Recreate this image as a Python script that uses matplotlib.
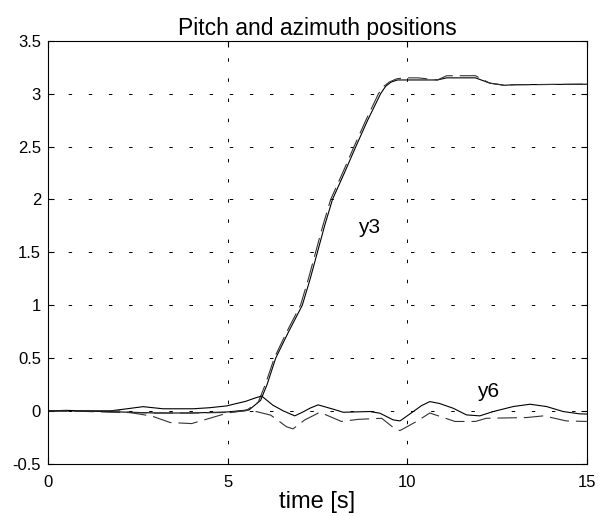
import numpy as np
import matplotlib
matplotlib.use("Agg")
import matplotlib.pyplot as plt

# y3: pitch (solid = measured, dashed = reference)
t_y3 = [0, 1, 2, 3, 4, 5, 5.6, 5.92, 6.1, 6.34, 6.7, 7.08, 7.3, 7.5, 7.7, 7.92,
        8.25, 8.57, 8.9, 9.26, 9.4, 9.55, 9.73, 10.84, 11.1, 11.9, 12.3, 12.7, 13, 15]
y3 = [0, 0, -0.01, -0.02, -0.02, -0.01, 0.01, 0.1, 0.25, 0.5, 0.75, 1.0, 1.25, 1.5,
      1.75, 2.0, 2.25, 2.5, 2.75, 3.0, 3.07, 3.11, 3.13, 3.13, 3.15, 3.15, 3.1, 3.08, 3.085, 3.09]

t_y3d = [0, 1, 2, 3, 4, 5, 5.5, 5.85, 6.05, 6.3, 6.65, 7.03, 7.25, 7.45, 7.65, 7.87,
         8.2, 8.52, 8.85, 9.2, 9.35, 9.5, 9.7, 9.9, 10.3, 10.84, 11.1, 11.9, 12.3, 12.7, 13, 15]
y3d = [0, -0.005, -0.015, -0.02, -0.02, -0.015, 0.0, 0.08, 0.25, 0.5, 0.75, 1.0, 1.25,
       1.5, 1.75, 2.0, 2.25, 2.5, 2.75, 3.0, 3.07, 3.11, 3.14, 3.15, 3.15, 3.13, 3.17, 3.17,
       3.1, 3.08, 3.085, 3.09]

# y6: azimuth (solid = measured, dashed = reference)
t_y6 = [0, 0.5, 1, 1.73, 2.2, 2.65, 3.2, 4.04, 4.5, 4.97, 5.25, 5.5, 5.8, 5.95, 6.26,
        6.55, 6.87, 7.1, 7.29, 7.52, 7.94, 8.22, 8.96, 9.24, 9.61, 9.8, 10.17, 10.4,
        10.63, 10.9, 11.28, 11.65, 12.02, 12.4, 12.95, 13.42, 13.88, 14.34, 14.8, 15]
y6 = [0, 0.005, 0, 0, 0.02, 0.04, 0.02, 0.02, 0.03, 0.047, 0.07, 0.09, 0.126, 0.14, 0.054,
      0.0, -0.047, -0.01, 0.025, 0.057, 0.016, -0.013, -0.006, -0.022, -0.085, -0.095,
      -0.006, 0.05, 0.088, 0.07, 0.025, -0.038, -0.047, -0.006, 0.041, 0.063, 0.041,
      -0.006, -0.028, -0.03]

t_y6d = [0, 1, 2, 2.9, 3.4, 4.0, 4.4, 5.0, 5.6, 6.2, 6.64, 6.82, 7.15, 7.57, 8.17, 8.64,
         9.29, 9.66, 9.8, 10.26, 10.63, 11.33, 11.9, 12.2, 13.32, 13.8, 14.43, 15]
y6d = [0, 0, 0, -0.05, -0.11, -0.12, -0.08, -0.02, 0.01, -0.04, -0.15, -0.17, -0.085,
       -0.013, -0.1, -0.08, -0.07, -0.17, -0.186, -0.1, -0.02, -0.1, -0.1, -0.07, -0.063,
       -0.047, -0.095, -0.1]

plt.rcParams['font.family'] = ['Liberation Sans', 'DejaVu Sans']
plt.rcParams['lines.scale_dashes'] = False

fig = plt.figure(figsize=(6, 5.17), dpi=100)
ax = fig.add_axes([0.08, 0.103, 0.898, 0.818])

ax.plot(t_y3, y3, color='k', lw=0.8)
ax.plot(t_y3d, y3d, color='#333333', lw=0.8, dashes=(14, 5))
ax.plot(t_y6, y6, color='k', lw=0.8)
ax.plot(t_y6d, y6d, color='#333333', lw=0.8, dashes=(14, 5))

ax.set_xlim(0, 15)
ax.set_ylim(-0.5, 3.5)
ax.set_xticks([0, 5, 10, 15])
ax.set_yticks(np.arange(-0.5, 3.51, 0.5))
ax.set_yticklabels(['-0.5', '0', '0.5', '1', '1.5', '2', '2.5', '3', '3.5'])
ax.grid(True, color='k', lw=0.7, dashes=(2.5, 12))
ax.tick_params(direction='in', top=True, right=True, length=4, labelsize=12)
ax.tick_params(axis='x', pad=8)
ax.tick_params(axis='y', pad=5)
for s in ax.spines.values():
    s.set_linewidth(0.8)

ax.text(8.95, 1.73, 'y3', fontsize=15, ha='center', va='center')
ax.text(12.25, 0.18, 'y6', fontsize=15, ha='center', va='center')

ax.set_title('Pitch and azimuth positions', fontsize=16.5, pad=4)
ax.set_xlabel('time [s]', fontsize=17, labelpad=1)

fig.savefig('out.png', dpi=100)
